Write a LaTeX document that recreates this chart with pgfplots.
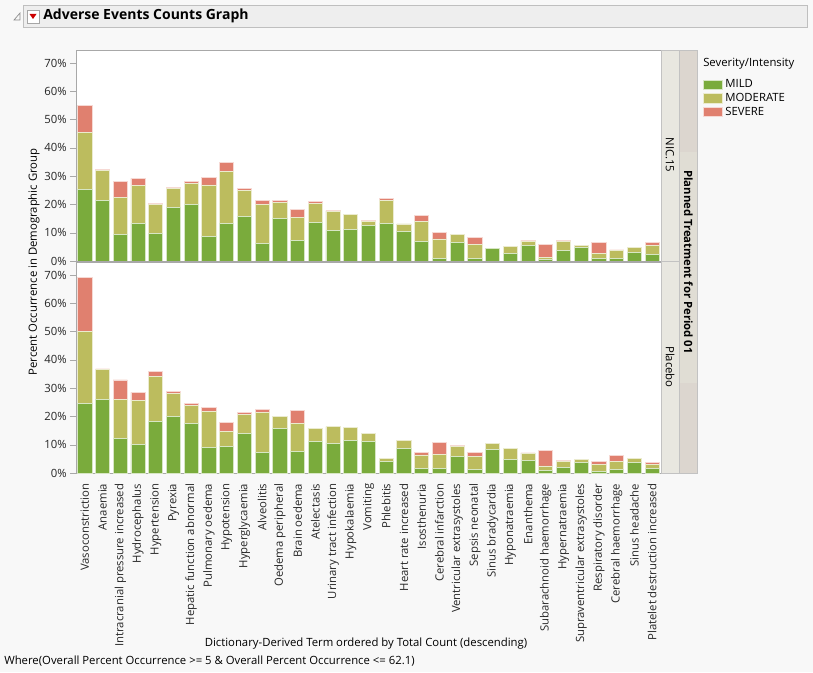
\documentclass[border=0pt]{standalone}
\usepackage{graphicx}
\usepackage{pgfplots}
\usepackage{pgfplotstable}
\pgfplotsset{compat=1.18}
\usepackage{fontspec}
\setmainfont{Open Sans}
\definecolor{mild}{HTML}{7AAB3C}
\definecolor{moderate}{HTML}{BCBC5E}
\definecolor{severe}{HTML}{E0806F}
\definecolor{bg}{HTML}{F8F8F8}
\definecolor{framec}{HTML}{A8A8A8}
\definecolor{stripa}{HTML}{E8E7E0}
\definecolor{stripb}{HTML}{E0DDD4}
\definecolor{stripc}{HTML}{DCD6CF}
\definecolor{titlebg}{HTML}{EEEEEE}

% x, mild, moderate, severe (increments, percent)
\pgfplotstableread{
x mild moderate severe
0 25.3 20.1 9.7
1 21.3 10.8 0.4
2 9.4 13.1 5.7
3 13.2 13.6 2.4
4 9.6 10.4 0.5
5 18.8 7.0 0.3
6 19.9 7.4 0.9
7 8.6 18.3 2.7
8 13.2 18.4 3.2
9 15.6 9.5 0.4
10 6.1 14.0 1.4
11 15.1 5.7 0.5
12 7.3 8.0 2.8
13 13.5 6.7 0.9
14 10.7 6.9 0.2
15 11.1 5.4 0
16 12.5 1.4 0.3
17 13.2 8.3 0.7
18 10.4 2.7 0
19 6.8 7.3 2.1
20 0.9 6.9 2.3
21 6.5 2.8 0
22 0.9 5.1 2.2
23 4.5 0 0
24 2.6 2.7 0
25 5.4 1.5 0.4
26 0.5 0.9 4.4
27 3.6 3.2 0.5
28 4.8 0.8 0
29 0.9 1.8 3.7
30 0.9 2.7 0.3
31 2.9 1.8 0.2
32 2.2 3.4 1.0
}\nicdata

\pgfplotstableread{
x mild moderate severe
0 24.5 25.4 19.3
1 26.0 10.5 0.3
2 12.1 14.0 6.8
3 10.1 15.7 2.7
4 18.2 15.8 2.0
5 20.1 7.9 0.7
6 17.5 6.3 0.7
7 9.1 12.7 1.3
8 9.3 5.4 3.1
9 14.0 6.6 0.7
10 7.3 14.2 1.1
11 15.8 4.3 0
12 7.6 9.9 4.6
13 11.2 4.4 0.3
14 10.5 5.9 0
15 11.6 4.5 0
16 11.2 2.9 0
17 4.2 1.0 0
18 8.7 2.8 0
19 1.6 4.8 1.0
20 1.6 5.1 4.1
21 5.9 3.5 0.2
22 1.3 4.6 1.5
23 8.4 2.2 0
24 4.8 4.0 0
25 4.5 2.3 0.3
26 0.9 1.6 5.4
27 2.0 2.2 0.3
28 3.8 1.0 0
29 0.5 2.4 1.2
30 1.3 2.7 2.2
31 3.8 1.5 0
32 1.6 1.3 0.7
}\placebodata

\pgfplotsset{
  aepanel/.style={
    scale only axis,
    width=438.75pt, height=158.25pt,
    xmin=-0.5, xmax=32.5, ymin=0, ymax=74.6,
    ybar stacked, bar width=0.8,
    ytick={0,10,...,70},
    yticklabel={\pgfmathprintnumber{\tick}\%},
    /pgf/number format/assume math mode=true,
    ytick pos=left, tick align=outside,
    major tick length=4.5pt,
    axis line style={framec}, tick style={framec},
    axis background/.style={fill=white},
    ticklabel style={font=\fontsize{8.5}{10}\selectfont, text=black!85},
    yticklabel style={xshift=1pt},
  },
  mildbar/.style={fill=mild, draw=mild!30!white, line width=0.6pt},
  modbar/.style={fill=moderate, draw=moderate!30!white, line width=0.6pt},
  sevbar/.style={fill=severe, draw=severe!30!white, line width=0.6pt},
}

\begin{document}
\begin{tikzpicture}[x=0.75pt,y=0.75pt]
% page background
\fill[bg] (0,0) rectangle (813,672);
% title bar
\filldraw[fill=titlebg, draw=black!25] (23,{672-5}) rectangle (807,{672-27});
\draw[black!45, line width=0.5pt] (14,{672-20}) -- (20,{672-13}) -- (20,{672-20}) -- cycle;
\filldraw[fill=white, draw=black!35] (27,{672-10}) rectangle (39,{672-23});
\fill[red!80!black] (29.5,{672-14}) -- (36.5,{672-14}) -- (33,{672-19}) -- cycle;
\node[anchor=west, inner sep=0, font=\fontsize{10.5}{12}\selectfont\bfseries] at (43,{672-16}) {Adverse Events Counts Graph};

% top panel: NIC.15
\begin{axis}[aepanel, at={(57pt,308.25pt)}, anchor=south west, xtick=\empty,
  legend style={at={(1.0718,0.873)}, anchor=north west, draw=none, fill=none,
    font=\fontsize{8.5}{10}\selectfont, row sep=-1.4pt, inner sep=0pt},
  legend cell align=left,
  legend image code/.code={\fill[#1] (0pt,-3.6pt) rectangle (14pt,3.6pt);}]
\addplot[mildbar] table[x=x, y=mild] {\nicdata};
\addplot[modbar] table[x=x, y=moderate] {\nicdata};
\addplot[sevbar] table[x=x, y=severe] {\nicdata};
\legend{MILD, MODERATE, SEVERE}
\end{axis}

% bottom panel: Placebo
\begin{axis}[aepanel, at={(57pt,149.25pt)}, anchor=south west,
  xtick={0,...,32}, major x tick style={draw=none},
  xticklabels={Vasoconstriction, Anaemia, Intracranial pressure increased,
    Hydrocephalus, Hypertension, Pyrexia, Hepatic function abnormal,
    Pulmonary oedema, Hypotension, Hyperglycaemia, Alveolitis,
    Oedema peripheral, Brain oedema, Atelectasis, Urinary tract infection,
    Hypokalaemia, Vomiting, Phlebitis, Heart rate increased, Isosthenuria,
    Cerebral infarction, Ventricular extrasystoles, Sepsis neonatal,
    Sinus bradycardia, Hyponatraemia, Enanthema, Subarachnoid haemorrhage,
    Hypernatraemia, Supraventricular extrasystoles, Respiratory disorder,
    Cerebral haemorrhage, Sinus headache, Platelet destruction increased},
  xticklabel style={rotate=90, anchor=east, font=\fontsize{8.5}{10}\selectfont}]
\addplot[mildbar] table[x=x, y=mild] {\placebodata};
\addplot[modbar] table[x=x, y=moderate] {\placebodata};
\addplot[sevbar] table[x=x, y=severe] {\placebodata};
\end{axis}

% strips on the right
\filldraw[fill=stripa, draw=framec!70] (661,{672-50}) rectangle (679,{672-261.5});
\filldraw[fill=stripa, draw=framec!70] (661,{672-261.5}) rectangle (679,{672-473});
\fill[stripb] (679,{672-50}) rectangle (697,{672-473});
\fill[stripc] (679,{672-50}) rectangle (697,{672-152});
\fill[stripc] (679,{672-383}) rectangle (697,{672-473});
\draw[framec!70] (679,{672-50}) rectangle (697,{672-473});
\node[rotate=-90, font=\fontsize{8.5}{10}\selectfont] at (670,{672-155}) {NIC.15};
\node[rotate=-90, font=\fontsize{8.5}{10}\selectfont] at (670,{672-367}) {Placebo};
\node[rotate=-90, font=\fontsize{8.5}{10}\selectfont\bfseries] at (688.5,{672-262}) {Planned Treatment for Period 01};

% legend title
\node[anchor=west, inner sep=0, font=\fontsize{8.5}{10}\selectfont] at (703,{672-64}) {Severity/Intensity};

% axis titles and footer
\node[rotate=90, font=\fontsize{8.5}{10}\selectfont] at (34,{672-262}) {Percent Occurrence in Demographic Group};
\node[font=\fontsize{8.5}{10}\selectfont] at (366,{672-644}) {Dictionary-Derived Term ordered by Total Count (descending)};
\node[anchor=west, inner sep=0, font=\fontsize{8.5}{10}\selectfont] at (4,{672-661}) {Where(Overall Percent Occurrence >= 5 \& Overall Percent Occurrence <= 62.1)};
\end{tikzpicture}
\end{document}
